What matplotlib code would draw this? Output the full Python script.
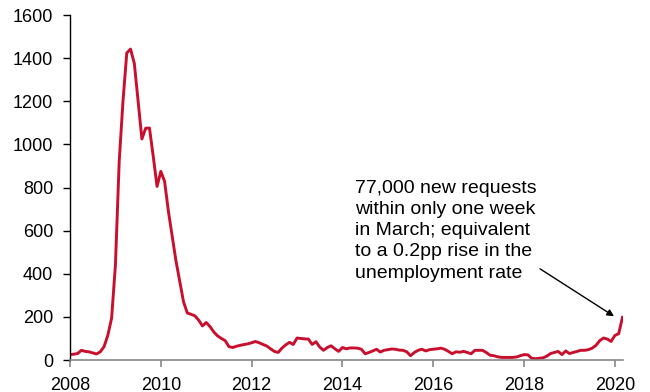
import numpy as np
import matplotlib
matplotlib.use("Agg")
import matplotlib.pyplot as plt

plt.rcParams['font.family'] = ['Liberation Sans', 'DejaVu Sans']

start_year = 2008
values = [
    # 2008
    25, 27, 30, 45, 40, 38, 33, 28, 38, 62, 115, 195,
    # 2009
    440, 920, 1200, 1424, 1442, 1375, 1200, 1025, 1075, 1076, 944, 805,
    # 2010
    875, 828, 690, 575, 460, 365, 270, 218, 212, 205, 185, 158,
    # 2011
    174, 155, 130, 112, 100, 90, 62, 58, 64, 68, 72, 75,
    # 2012
    80, 86, 80, 72, 65, 52, 40, 35, 55, 70, 82, 72,
    # 2013
    102, 100, 98, 97, 72, 85, 60, 45, 58, 66, 52, 40,
    # 2014
    58, 52, 56, 56, 55, 50, 29, 35, 42, 50, 37, 45,
    # 2015
    48, 51, 50, 46, 45, 38, 20, 35, 45, 50, 42, 48,
    # 2016
    50, 52, 55, 50, 40, 29, 38, 36, 40, 35, 29, 45,
    # 2017
    45, 45, 35, 22, 20, 15, 12, 12, 12, 12, 14, 20,
    # 2018
    25, 24, 8, 6, 8, 10, 18, 30, 35, 40, 25, 42,
    # 2019
    30, 35, 40, 45, 45, 48, 55, 68, 90, 102, 97, 86,
    # 2020
    114, 122, 198,
]
x_ticks = [2008, 2010, 2012, 2014, 2016, 2018, 2020]
y_ticks = [0, 200, 400, 600, 800, 1000, 1200, 1400, 1600]
annotation = ("77,000 new requests\nwithin only one week\nin March; equivalent\n"
              "to a 0.2pp rise in the\nunemployment rate")

dates = start_year + np.arange(len(values)) / 12.0

fig = plt.figure(figsize=(6.5, 3.92), dpi=100)
ax = fig.add_axes([0.1077, 0.0816, 0.8503, 0.8801])

ax.plot(dates, values, color='#C8102E', lw=2.1, solid_joinstyle='round')

ax.set_xlim(2008, dates[-1] + 0.005)
ax.set_ylim(0, 1600)
ax.set_xticks(x_ticks)
ax.set_yticks(y_ticks)

for s in ['top', 'right']:
    ax.spines[s].set_visible(False)
ax.spines['left'].set_color('black')
ax.spines['left'].set_linewidth(1.0)
ax.spines['bottom'].set_color('#888888')
ax.spines['bottom'].set_linewidth(1.2)

ax.tick_params(axis='y', direction='out', length=4.7, width=1.0, color='black',
               labelsize=13, pad=7.5)
ax.tick_params(axis='x', direction='out', length=5, width=1.2, color='#888888',
               labelsize=13, pad=7)

ax.text(2014.28, 835, annotation, fontsize=14, ha='left', va='top',
        linespacing=1.32)
ax.annotate('', xy=(2019.98, 203), xytext=(2018.35, 423),
            arrowprops=dict(arrowstyle='-|>', color='black', lw=1.0,
                            mutation_scale=10, shrinkA=0, shrinkB=0))

fig.savefig('out.png', dpi=100)
